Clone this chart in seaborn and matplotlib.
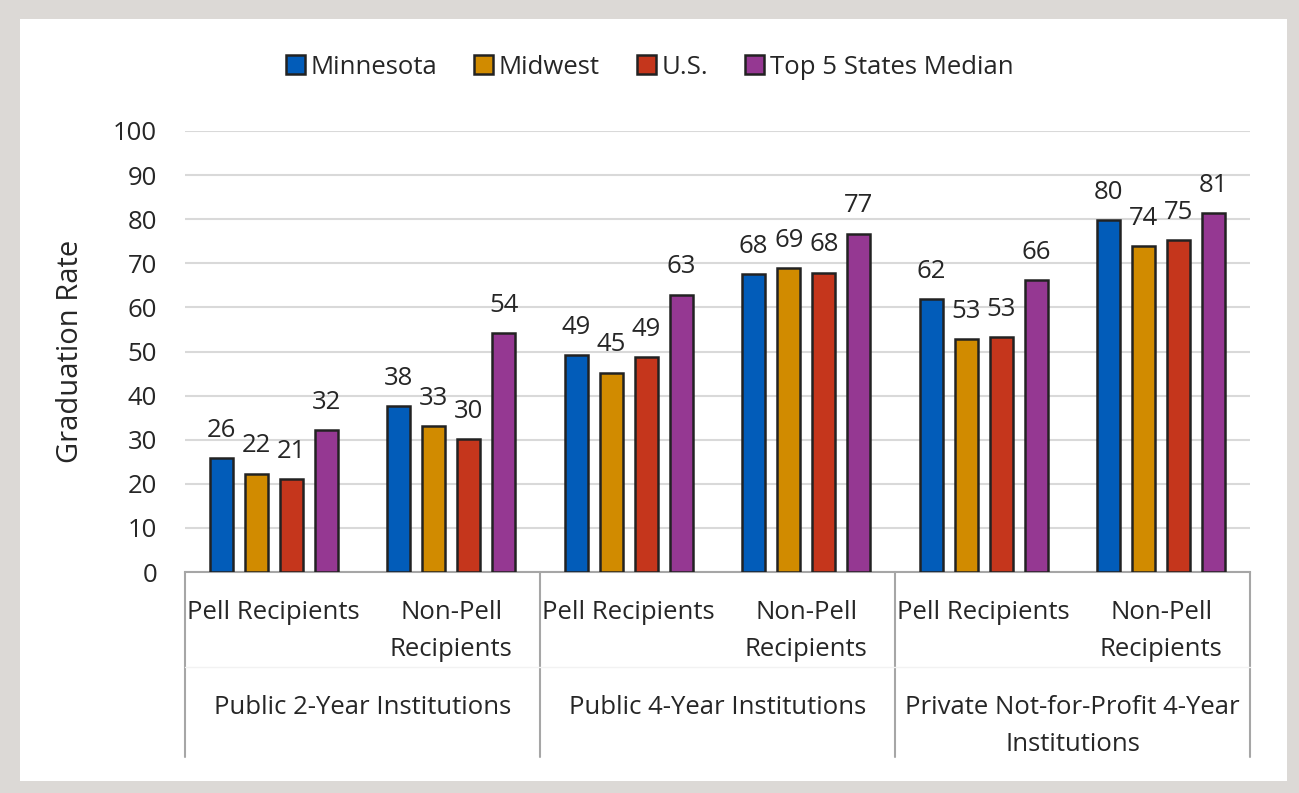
import pandas as pd
import matplotlib.pyplot as plt
import matplotlib.transforms as mtransforms
from matplotlib.patches import Rectangle
import seaborn as sns

groups = ["Public 2-Year Institutions", "Public 4-Year Institutions",
          "Private Not-for-Profit 4-Year\nInstitutions"]
subgroups = ["Pell Recipients", "Non-Pell\nRecipients"]
series = ["Minnesota", "Midwest", "U.S.", "Top 5 States Median"]
colors = ["#025cb9", "#d18b00", "#c5361c", "#953892"]

# one list per series, in order: 2yr Pell, 2yr Non-Pell, 4yr Pell, 4yr Non-Pell, Priv Pell, Priv Non-Pell
minnesota = [25.8, 37.6, 49.2, 67.5, 61.9, 79.8]
midwest = [22.3, 33.0, 45.2, 68.9, 52.8, 73.9]
us = [21.1, 30.1, 48.8, 67.9, 53.2, 75.3]
top5 = [32.2, 54.1, 62.9, 76.7, 66.1, 81.3]

cats = [g + "|" + s for g in groups for s in subgroups]
rows = []
for name, vals in zip(series, [minnesota, midwest, us, top5]):
    for c, v in zip(cats, vals):
        rows.append({"cat": c, "series": name, "rate": v})
df = pd.DataFrame(rows)

sns.set_style("white")
plt.rcParams["font.family"] = ["Open Sans", "DejaVu Sans"]
txt = "#262626"
fs = 18.5

fig = plt.figure(figsize=(12.99, 7.93), dpi=100, facecolor="#dcd9d6")
fig.patches.append(Rectangle((20 / 1299, 1 - 781 / 793), 1267 / 1299, 762 / 793,
                             transform=fig.transFigure, facecolor="white",
                             edgecolor="none", zorder=-5))
ax = fig.add_axes([185 / 1299, 1 - 572 / 793, 1065 / 1299, 441 / 793])
ax.set_facecolor("none")

sns.barplot(data=df, x="cat", y="rate", hue="series", order=cats, hue_order=series,
            palette=colors, saturation=1, width=0.79, gap=0.34, edgecolor="#222222",
            linewidth=1.8, ax=ax, zorder=3)

for cont in ax.containers:
    ax.bar_label(cont, fmt="%.0f", padding=11, fontsize=fs, color=txt)

ax.set_ylim(0, 100)
ax.set_xlim(-0.5, 5.5)
ax.set_yticks(range(0, 101, 10))
ax.tick_params(axis="y", labelsize=fs, labelcolor=txt, length=0, pad=20)
ax.yaxis.grid(True, color="#d9d9d9", linewidth=1.5, zorder=0)
ax.set_axisbelow(True)
ax.set_ylabel("Graduation Rate", fontsize=21, color=txt)
ax.yaxis.set_label_coords(-0.094, 0.5)
ax.set_xlabel("")
ax.set_xticks([])
for side in ["left", "right", "top"]:
    ax.spines[side].set_visible(False)
ax.spines["bottom"].set_color("#a6a6a6")
ax.spines["bottom"].set_linewidth(1.5)

trans = mtransforms.blended_transform_factory(ax.transData, ax.transAxes)
for i, c in enumerate(cats):
    ax.text(i, -0.063, c.split("|")[1], transform=trans, ha="center", va="top",
            fontsize=fs, color=txt, linespacing=1.65)
for j, g in enumerate(groups):
    ax.text(2 * j + 0.5, -0.28, g, transform=trans, ha="center", va="top",
            fontsize=fs, color=txt, linespacing=1.6)
for xb in [-0.5, 1.5, 3.5, 5.5]:
    ax.plot([xb, xb], [0, -0.42], transform=trans, color="#a6a6a6", lw=1.5,
            clip_on=False)
ax.plot([-0.5, 5.5], [-0.215, -0.215], transform=trans, color="#f2f2f2", lw=1,
        clip_on=False)

leg = ax.legend(loc="center", bbox_to_anchor=(0.5, 1 - 67 / 793), bbox_transform=fig.transFigure,
                ncol=4, frameon=False, fontsize=fs, handlelength=0.75, handleheight=0.75,
                handletextpad=0.2, columnspacing=1.45)
for t in leg.get_texts():
    t.set_color(txt)

fig.savefig("out.png", dpi=100, facecolor=fig.get_facecolor())
